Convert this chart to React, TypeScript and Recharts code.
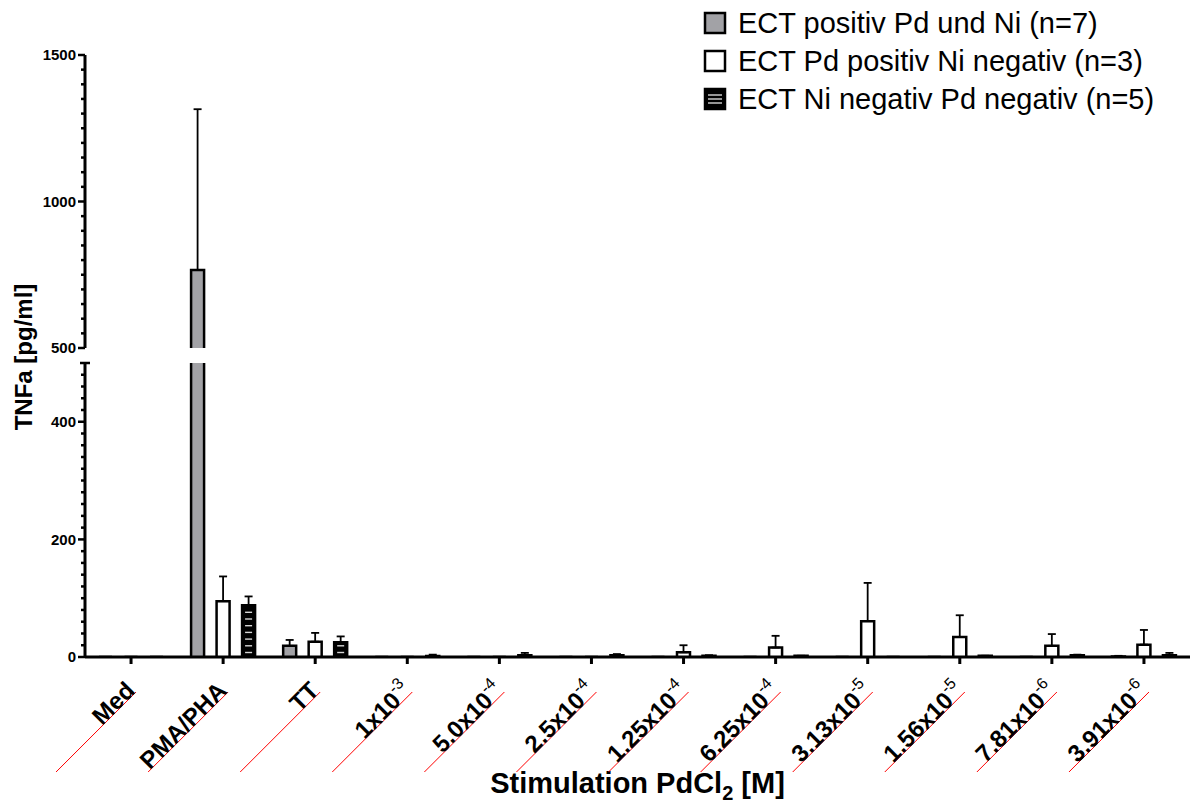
import React from 'react'
import { BarChart, Bar, XAxis, YAxis, ErrorBar, Legend, Label } from 'recharts'

const categories = ['Med', 'PMA/PHA', 'TT', '1x10', '5.0x10', '2.5x10', '1.25x10', '6.25x10', '3.13x10', '1.56x10', '7.81x10', '3.91x10']
const exponents = ['', '', '', '-3', '-4', '-4', '-4', '-4', '-5', '-5', '-6', '-6']

// ECT positiv Pd und Ni (n=7)
const posBoth = [0, 766, 19, 0, 0, 0, 0, 0, 0, 0, 0, 1]
const posBothErr = [0, 549, 10, 0, 0, 0, 0, 0, 0, 0, 0, 1]
// ECT Pd positiv Ni negativ (n=3)
const pdPos = [0, 95, 26, 0, 0, 0, 8, 16, 61, 34, 19, 21]
const pdPosErr = [0, 42, 15, 0, 0, 0, 12, 20, 65, 37, 20, 25]
// ECT Ni negativ Pd negativ (n=5)
const bothNeg = [0, 88, 25, 1.5, 3, 3, 2, 2, 0, 2, 3, 3]
const bothNegErr = [0, 15, 10, 2.5, 4, 2, 1, 0, 0, 0, 1, 4]

const seriesNames = ['ECT positiv Pd und Ni (n=7)', 'ECT Pd positiv Ni negativ (n=3)', 'ECT Ni negativ Pd negativ (n=5)']

const upperTicks = [500, 550, 600, 650, 700, 750, 800, 850, 900, 950, 1000, 1050, 1100, 1150, 1200, 1250, 1300, 1350, 1400, 1450, 1500]
const upperMajor = [500, 1000, 1500]
const lowerTicks = [0, 20, 40, 60, 80, 100, 120, 140, 160, 180, 200, 220, 240, 260, 280, 300, 320, 340, 360, 380, 400, 420, 440, 460, 480, 500]
const lowerMajor = [0, 200, 400]

const FONT = 'Liberation Sans'
const GRAY = '#a2a2a6'

const rows = categories.map((cat, i) => ({
  cat,
  a: posBoth[i],
  aErr: posBothErr[i],
  b: pdPos[i],
  bErr: pdPosErr[i],
  c: bothNeg[i],
  cErr: bothNegErr[i]
}))

// bar with open bottom, optional white stripes; nothing drawn when value is under the segment
const makeShape = (fill: string, striped: boolean, minVal: number) => (props: any) => {
  const { x, y, width, height, payload, dataKey } = props
  if (x == null || y == null) return <g />
  const raw = payload && typeof dataKey === 'string' ? payload[dataKey] : Array.isArray(props.value) ? props.value[1] : props.value
  if (raw != null && raw < minVal) return <g />
  const top = Math.min(y, y + height)
  const bottom = Math.max(y, y + height)
  const h = bottom - top
  const lines: React.ReactNode[] = []
  if (striped) {
    for (let ly = bottom - 4.5; ly > top + 3; ly -= 6.7) {
      lines.push(<line key={ly} x1={x + 3} x2={x + width - 3} y1={ly} y2={ly} stroke="#d6d6d6" strokeWidth={1.4} />)
    }
  }
  return (
    <g>
      <rect x={x} y={top} width={width} height={h} fill={fill} />
      {lines}
      <path d={`M${x},${bottom} L${x},${top} L${x + width},${top} L${x + width},${bottom}`} fill="none" stroke="#000" strokeWidth={2.5} />
    </g>
  )
}

const yTick = (majors: number[], cap?: number) => (props: any) => {
  const { x, y, payload } = props
  const v = payload.value
  if (v === cap) {
    return <line x1={x - 5} x2={x + 5} y1={y} y2={y} stroke="#000" strokeWidth={2.5} />
  }
  const major = majors.includes(v)
  return (
    <g>
      <line x1={x - (major ? 7 : 4)} x2={x} y1={y} y2={y} stroke="#000" strokeWidth={2.5} />
      {major && (
        <text x={x - 9} y={y} dy="0.35em" textAnchor="end" fontFamily={FONT} fontSize={15} fontWeight="bold" fill="#000">
          {v}
        </text>
      )}
    </g>
  )
}

const xTick = (props: any) => {
  const { x, y, payload, index } = props
  const exp = exponents[index]
  return (
    <g>
      <line x1={x} x2={x} y1={y} y2={y + 7} stroke="#000" strokeWidth={3} />
      <line x1={x + 5} y1={y + 35} x2={x - 75} y2={y + 115} stroke="red" strokeWidth={1} />
      <g transform={`translate(${x + 5},${y + 35})`}>
        <g transform="rotate(-45)">
          <text x={0} y={0} textAnchor="end" fontFamily={FONT} fontSize={24} fontWeight="bold" fill="#000">
            {payload.value}
            {exp ? (
              <tspan dy={-11} fontSize={16} fontWeight="normal">
                {exp}
              </tspan>
            ) : null}
          </text>
        </g>
      </g>
    </g>
  )
}

const XTitle = (props: any) => {
  const { viewBox } = props
  return (
    <text x={viewBox.x + viewBox.width / 2} y={viewBox.y + 136} textAnchor="middle" fontFamily={FONT} fontSize={29} fontWeight="bold" fill="#000">
      Stimulation PdCl
      <tspan dy={7} fontSize={20}>2</tspan>
      <tspan dy={-7}> [M]</tspan>
    </text>
  )
}

const YTitle = (props: any) => {
  const { viewBox } = props
  const cy = viewBox.y - 6
  return (
    <text x={32} y={cy} transform={`rotate(-90, 32, ${cy})`} textAnchor="middle" fontFamily={FONT} fontSize={24} fontWeight="bold" fill="#000">
      TNFa [pg/ml]
    </text>
  )
}

const LegendSquare = ({ idx }: { idx: number }) => (
  <svg width={24} height={24} style={{ display: 'block' }}>
    <rect x={2} y={2} width={20} height={20} fill={idx === 0 ? GRAY : idx === 1 ? '#fff' : '#000'} stroke="#000" strokeWidth={2.5} />
    {idx === 2 && [8, 12, 16].map((ly) => <line key={ly} x1={5} x2={19} y1={ly} y2={ly} stroke="#d6d6d6" strokeWidth={1.4} />)}
  </svg>
)

const renderLegend = () => (
  <div style={{ fontFamily: FONT }}>
    {seriesNames.map((name, i) => (
      <div key={name} style={{ display: 'flex', alignItems: 'center', height: 38 }}>
        <LegendSquare idx={i} />
        <span style={{ fontSize: 29, color: '#000', marginLeft: 11, whiteSpace: 'nowrap' }}>{name}</span>
      </div>
    ))}
  </div>
)

const upArrow = (key: 'aErr' | 'bErr' | 'cErr') => (d: any) => [0, d[key]]

export default function App() {
  const common = { barSize: 13, barGap: 12.5 }
  const errProps = { width: 4, strokeWidth: 1.8, stroke: '#000', direction: 'y' as const, isAnimationActive: false }
  return (
    <div style={{ position: 'absolute', left: 0, top: 0, width: 1190, height: 807, background: '#fff' }}>
      <div style={{ position: 'absolute', left: 0, top: 0 }}>
        <BarChart width={1190} height={360} data={rows} margin={{ top: 55, right: 0, bottom: 12, left: 0 }} {...common}>
          <XAxis dataKey="cat" hide />
          <YAxis
            width={85}
            domain={[500, 1500]}
            allowDataOverflow
            ticks={upperTicks}
            interval={0}
            tickLine={false}
            tickSize={0}
            tickMargin={0}
            axisLine={{ stroke: '#000', strokeWidth: 3 }}
            tick={yTick(upperMajor)}
          />
          <Legend
            layout="vertical"
            align="center"
            verticalAlign="middle"
            content={renderLegend}
            wrapperStyle={{ left: 703, top: 4, width: 487, height: 114 }}
          />
          <Bar dataKey="a" name={seriesNames[0]} shape={makeShape(GRAY, false, 500)} isAnimationActive={false}>
            <ErrorBar dataKey={upArrow('aErr')} {...errProps} />
          </Bar>
          <Bar dataKey="b" name={seriesNames[1]} shape={makeShape('#fff', false, 500)} isAnimationActive={false}>
            <ErrorBar dataKey={upArrow('bErr')} {...errProps} />
          </Bar>
          <Bar dataKey="c" name={seriesNames[2]} shape={makeShape('#000', true, 500)} isAnimationActive={false}>
            <ErrorBar dataKey={upArrow('cErr')} {...errProps} />
          </Bar>
        </BarChart>
      </div>
      <div
        style={{
          position: 'absolute',
          left: 0,
          top: 0,
          clipPath: 'polygon(0 0, 80px 0, 80px 361px, 100% 361px, 100% 100%, 0 100%)'
        }}
      >
        <BarChart width={1190} height={807} data={rows} margin={{ top: 363, right: 0, bottom: 30, left: 0 }} {...common}>
          <XAxis
            dataKey="cat"
            height={120}
            interval={0}
            tickLine={false}
            tickSize={0}
            tickMargin={0}
            axisLine={{ stroke: '#000', strokeWidth: 3 }}
            tick={xTick}
          >
            <Label content={XTitle} />
          </XAxis>
          <YAxis
            width={85}
            domain={[0, 500]}
            allowDataOverflow
            ticks={lowerTicks}
            interval={0}
            tickLine={false}
            tickSize={0}
            tickMargin={0}
            axisLine={{ stroke: '#000', strokeWidth: 3 }}
            tick={yTick(lowerMajor, 500)}
          >
            <Label content={YTitle} />
          </YAxis>
          <Bar dataKey="a" shape={makeShape(GRAY, false, 0)} isAnimationActive={false}>
            <ErrorBar dataKey={upArrow('aErr')} {...errProps} />
          </Bar>
          <Bar dataKey="b" shape={makeShape('#fff', false, 0)} isAnimationActive={false}>
            <ErrorBar dataKey={upArrow('bErr')} {...errProps} />
          </Bar>
          <Bar dataKey="c" shape={makeShape('#000', true, 0)} isAnimationActive={false}>
            <ErrorBar dataKey={upArrow('cErr')} {...errProps} />
          </Bar>
        </BarChart>
      </div>
    </div>
  )
}
